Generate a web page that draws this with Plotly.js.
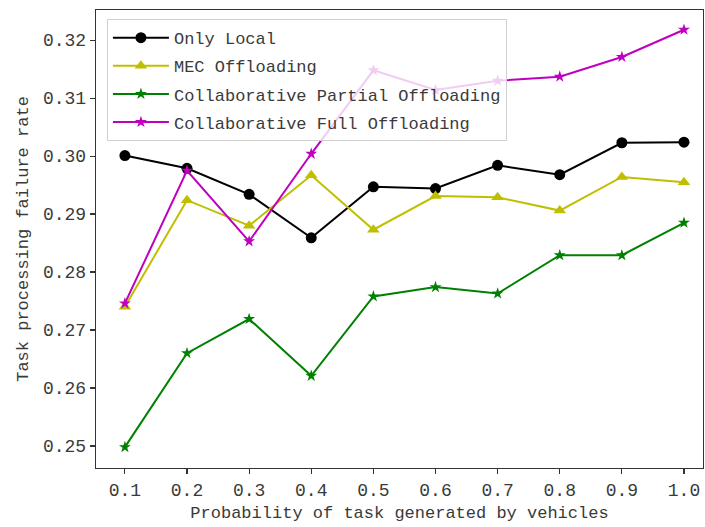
<!DOCTYPE html>
<html>
<head>
<meta charset="utf-8">
<script src="https://cdn.plot.ly/plotly-3.0.1.min.js"></script>
<style>html,body{margin:0;padding:0;background:#fff;}#chart{width:705px;height:527px;}</style>
</head>
<body>
<div id="chart"></div>
<script>
const probabilities = [0.1, 0.2, 0.3, 0.4, 0.5, 0.6, 0.7, 0.8, 0.9, 1.0];
const yTickVals = [0.25, 0.26, 0.27, 0.28, 0.29, 0.30, 0.31, 0.32];

const onlyLocal = [0.3001, 0.2979, 0.2934, 0.2859, 0.2947, 0.2944, 0.2984, 0.2968, 0.3023, 0.3024];
const mecOffloading = [0.2740, 0.2924, 0.2880, 0.2967, 0.2873, 0.2931, 0.2929, 0.2906, 0.2964, 0.2955];
const collabPartial = [0.2498, 0.2660, 0.2719, 0.2621, 0.2758, 0.2774, 0.2763, 0.2829, 0.2829, 0.2885];
const collabFull = [0.2746, 0.2975, 0.2853, 0.3004, 0.3148, 0.3114, 0.3130, 0.3137, 0.3171, 0.3218];

const FONT = "'Liberation Mono', 'DejaVu Sans Mono', monospace";
const TXT = '#3a3a3a';

function series(name, y, color, symbol, size, group) {
  return {
    x: probabilities, y: y, name: name, type: 'scatter', mode: 'lines+markers',
    legendgroup: group,
    line: {color: color, width: 2},
    marker: {color: color, symbol: symbol, size: size}
  };
}

const data = [
  series('Only Local', onlyLocal, '#000000', 'circle', 11, 'a'),
  series('MEC Offloading', mecOffloading, '#bfbf00', 'triangle-up', 11, 'b'),
  series('Collaborative Partial Offloading', collabPartial, '#008000', 'star', 9, 'c'),
  series('Collaborative Full Offloading', collabFull, '#bf00bf', 'star', 9, 'd')
];

const axisCommon = {
  showgrid: false, zeroline: false,
  showline: true, linecolor: '#333', linewidth: 1.3, mirror: true,
  ticks: 'outside', ticklen: 5, tickwidth: 1.2, tickcolor: '#333',
  tickfont: {family: FONT, size: 18, color: TXT}
};

const layout = {
  width: 705, height: 527,
  margin: {l: 96, r: 2, t: 10, b: 59},
  paper_bgcolor: '#fff', plot_bgcolor: '#fff',
  font: {family: FONT, color: TXT},
  xaxis: Object.assign({}, axisCommon, {
    range: [0.0535, 1.0306],
    tickmode: 'array', tickvals: probabilities, tickformat: '.1f',
    title: {text: 'Probability of task generated by vehicles', font: {family: FONT, size: 17, color: TXT}, standoff: 6}
  }),
  yaxis: Object.assign({}, axisCommon, {
    range: [0.2462, 0.3252],
    tickmode: 'array', tickvals: yTickVals, tickformat: '.2f',
    title: {text: 'Task processing failure rate', font: {family: FONT, size: 17, color: TXT}, standoff: 10}
  }),
  showlegend: true,
  legend: {
    x: 0.018, y: 0.98, xanchor: 'left', yanchor: 'top',
    bgcolor: 'rgba(255,255,255,0.8)', bordercolor: '#d0d0d0', borderwidth: 1,
    font: {family: FONT, size: 17, color: TXT},
    tracegroupgap: 3, itemwidth: 56
  }
};

Plotly.newPlot('chart', data, layout, {displayModeBar: false, staticPlot: true});
</script>
</body>
</html>
